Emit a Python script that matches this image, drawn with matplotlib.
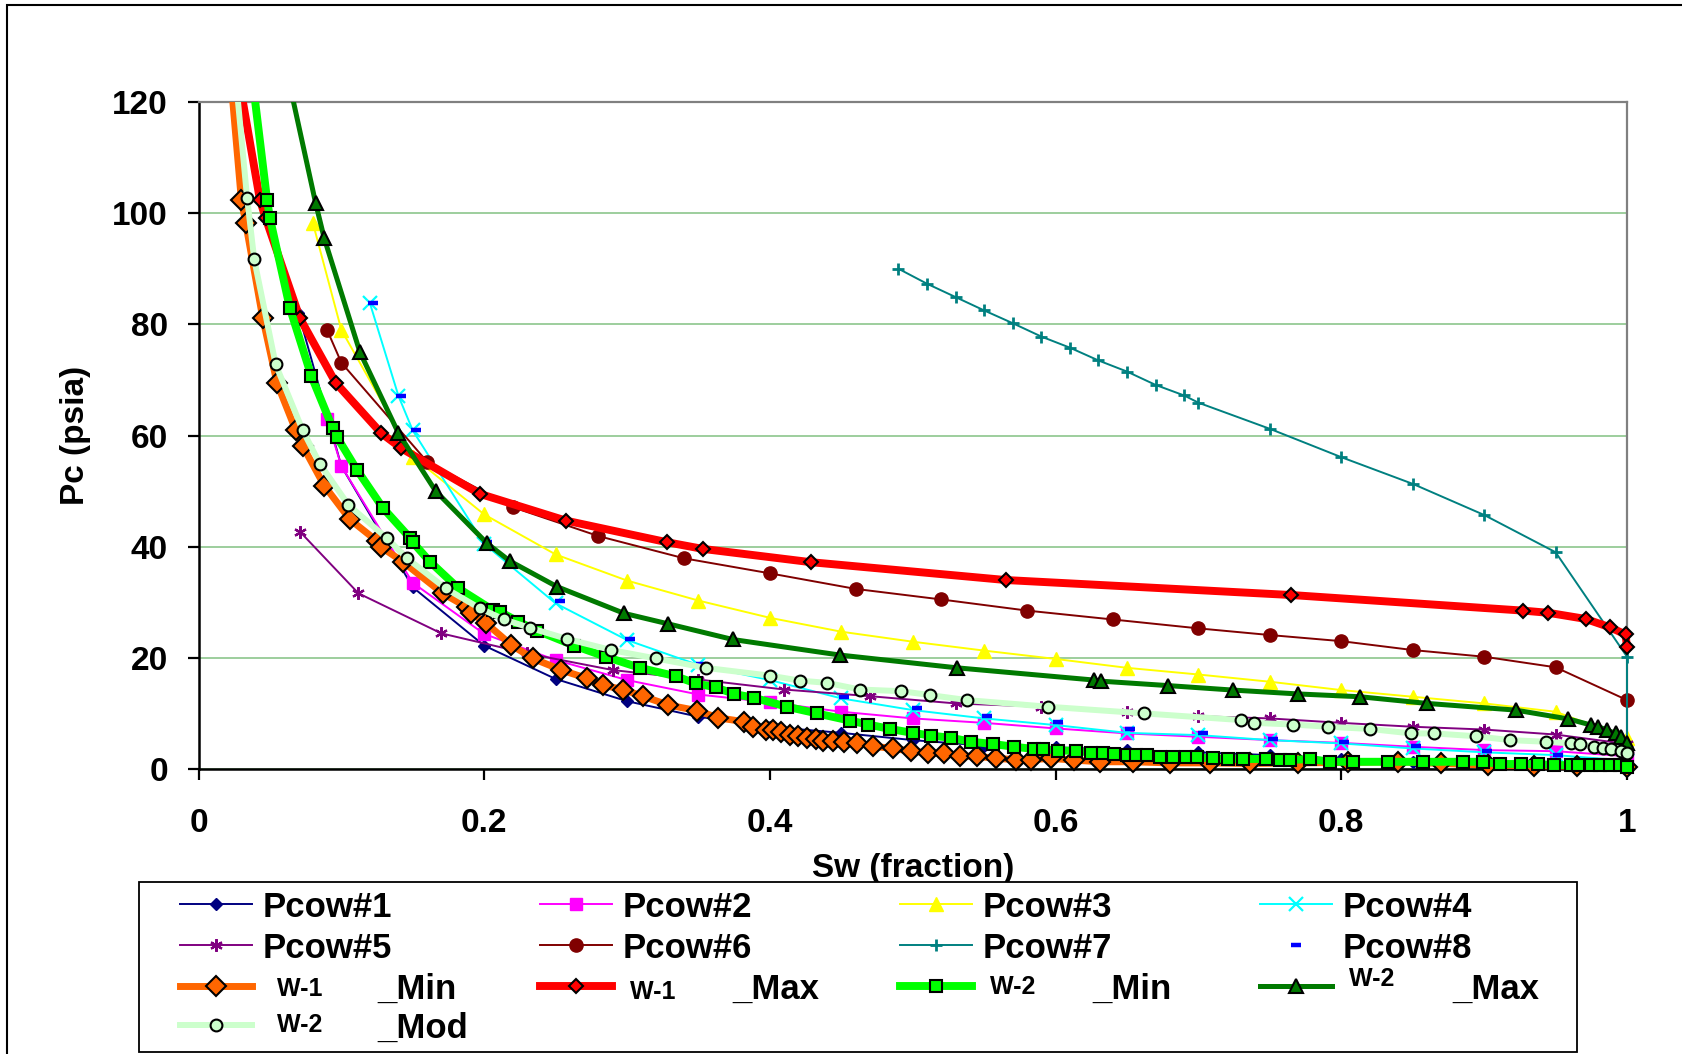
import matplotlib.pyplot as plt
from matplotlib.patches import Rectangle
from matplotlib.text import Annotation

plt.rcParams['font.family'] = ['Liberation Sans', 'DejaVu Sans']
plt.rcParams['font.weight'] = 'bold'

# === data (Sw fraction, Pc psia) ===
pcow1_x = [0.07, 0.10, 0.15, 0.20, 0.25, 0.30, 0.35, 0.40, 0.45, 0.50, 0.55, 0.60, 0.65, 0.70, 0.75, 0.80, 0.85, 0.90, 0.95, 1.00]
pcow1_y = [82.0, 54.5, 32.7, 22.2, 16.2, 12.2, 9.4, 7.6, 6.5, 5.2, 4.2, 3.9, 3.4, 3.0, 2.5, 1.8, 1.3, 1.1, 0.9, 0.4]

pcow2_x = [0.09, 0.10, 0.15, 0.20, 0.25, 0.30, 0.35, 0.40, 0.45, 0.50, 0.55, 0.60, 0.65, 0.70, 0.75, 0.80, 0.85, 0.90, 0.95, 1.00]
pcow2_y = [62.9, 54.5, 33.5, 24.3, 19.6, 16.0, 13.4, 12.0, 10.3, 9.1, 8.3, 7.3, 6.4, 5.8, 5.2, 4.7, 4.0, 3.4, 3.2, 2.3]

pcow3_x = [0.08, 0.10, 0.15, 0.20, 0.25, 0.30, 0.35, 0.40, 0.45, 0.50, 0.55, 0.60, 0.65, 0.70, 0.75, 0.80, 0.85, 0.90, 0.95, 1.00]
pcow3_y = [98.3, 79.0, 56.2, 45.8, 38.6, 33.9, 30.3, 27.2, 24.7, 22.9, 21.3, 19.8, 18.2, 17.0, 15.7, 14.2, 13.0, 11.8, 10.3, 5.6]

pcow4_x = [0.12, 0.14, 0.15, 0.20, 0.25, 0.30, 0.35, 0.40, 0.45, 0.50, 0.55, 0.60, 0.65, 0.70, 0.75, 0.80, 0.85, 0.90, 0.95, 1.00]
pcow4_y = [83.8, 67.1, 60.9, 40.5, 29.8, 23.2, 18.7, 16.0, 12.7, 10.6, 9.1, 7.9, 6.5, 6.1, 5.2, 4.6, 3.7, 3.0, 2.5, 1.5]

pcow5_x = [0.071, 0.112, 0.170, 0.230, 0.290, 0.350, 0.410, 0.470, 0.530, 0.590, 0.650, 0.700, 0.750, 0.800, 0.850, 0.900, 0.950, 1.00]
pcow5_y = [42.7, 31.6, 24.4, 20.8, 17.8, 16.1, 14.3, 13.1, 11.8, 11.2, 10.3, 9.5, 9.1, 8.3, 7.6, 7.1, 6.2, 4.5]

pcow6_x = [0.09, 0.10, 0.16, 0.22, 0.28, 0.34, 0.40, 0.46, 0.52, 0.58, 0.64, 0.70, 0.75, 0.80, 0.85, 0.90, 0.95, 1.00]
pcow6_y = [79.0, 73.1, 55.3, 47.1, 41.9, 37.9, 35.2, 32.4, 30.5, 28.5, 26.9, 25.3, 24.1, 23.0, 21.4, 20.2, 18.3, 12.4]

pcow7_x = [0.49, 0.51, 0.53, 0.55, 0.57, 0.59, 0.61, 0.63, 0.65, 0.67, 0.69, 0.70, 0.75, 0.80, 0.85, 0.90, 0.95, 1.00, 1.00]
pcow7_y = [90.0, 87.3, 84.9, 82.5, 80.2, 77.8, 75.8, 73.5, 71.5, 69.1, 67.2, 65.9, 61.2, 56.1, 51.3, 45.7, 39.0, 20.2, 0.0]

pcow8_x = [0.122, 0.142, 0.152, 0.202, 0.253, 0.302, 0.352, 0.402, 0.452, 0.503, 0.552, 0.602, 0.652, 0.703, 0.752, 0.802, 0.852, 0.902, 0.952]
pcow8_y = [83.8, 67.1, 60.9, 40.8, 30.2, 23.3, 18.9, 16.6, 12.9, 11.0, 9.6, 8.4, 7.2, 6.4, 5.4, 4.9, 4.1, 3.3, 2.5]

w1_min_x = [0.020, 0.030, 0.033, 0.045, 0.055, 0.068, 0.073, 0.088, 0.106, 0.125, 0.128, 0.143, 0.171, 0.188, 0.191,
            0.201, 0.219, 0.234, 0.254, 0.272, 0.283, 0.297, 0.311, 0.329, 0.349, 0.364, 0.382, 0.388, 0.397, 0.402,
            0.408, 0.414, 0.420, 0.426, 0.432, 0.437, 0.444, 0.452, 0.461, 0.472, 0.486, 0.499, 0.511, 0.522, 0.533,
            0.545, 0.558, 0.572, 0.583, 0.597, 0.613, 0.631, 0.654, 0.680, 0.708, 0.736, 0.770, 0.805, 0.840, 0.870,
            0.903, 0.935, 0.965, 1.000]
w1_min_y = [132, 102.4, 98.3, 81.1, 69.4, 61.0, 58.1, 51.0, 44.9, 41.0, 39.9, 37.3, 31.6, 29.1, 28.0,
            26.3, 22.3, 19.9, 17.8, 16.3, 15.1, 14.3, 13.1, 11.5, 10.5, 9.2, 8.5, 7.6, 7.1, 7.0,
            6.6, 6.1, 5.9, 5.6, 5.4, 5.1, 5.1, 4.8, 4.7, 4.1, 3.7, 3.2, 2.9, 2.8, 2.3,
            2.3, 1.9, 1.7, 1.7, 1.9, 1.6, 1.3, 1.3, 1.1, 1.1, 1.0, 1.1, 1.2, 1.3, 1.0,
            0.7, 0.6, 0.5, 0.4]

w1_max_x = [0.025, 0.043, 0.047, 0.071, 0.096, 0.128, 0.142, 0.197, 0.257, 0.328, 0.353, 0.429, 0.565, 0.765, 0.927,
            0.945, 0.971, 0.988, 0.999, 1.000]
w1_max_y = [129, 102.4, 99.1, 81.1, 69.5, 60.4, 57.7, 49.5, 44.7, 40.8, 39.6, 37.2, 34.0, 31.3, 28.5,
            28.1, 27.0, 25.5, 24.2, 21.9]

w2_min_x = [0.035, 0.048, 0.050, 0.064, 0.079, 0.094, 0.097, 0.111, 0.129, 0.148, 0.150, 0.162, 0.182, 0.206, 0.211,
            0.224, 0.237, 0.263, 0.285, 0.309, 0.334, 0.348, 0.362, 0.375, 0.389, 0.412, 0.433, 0.456, 0.469, 0.484,
            0.500, 0.513, 0.527, 0.541, 0.556, 0.571, 0.585, 0.591, 0.602, 0.614, 0.625, 0.633, 0.641, 0.650, 0.656,
            0.664, 0.673, 0.682, 0.691, 0.699, 0.710, 0.721, 0.731, 0.747, 0.757, 0.764, 0.778, 0.792, 0.808, 0.833,
            0.857, 0.885, 0.899, 0.911, 0.926, 0.938, 0.949, 0.961, 0.966, 0.975, 0.981, 0.988, 0.995, 1.000]
w2_min_y = [130, 102.4, 99.1, 82.9, 70.7, 61.3, 59.7, 53.8, 47.0, 41.6, 40.8, 37.3, 32.5, 28.6, 28.3,
            26.5, 24.9, 22.2, 20.2, 18.2, 16.7, 15.4, 14.7, 13.5, 12.8, 11.2, 10.0, 8.7, 8.0, 7.2,
            6.5, 6.0, 5.6, 4.9, 4.5, 4.0, 3.6, 3.6, 3.3, 3.3, 2.9, 2.9, 2.7, 2.5, 2.5,
            2.5, 2.1, 2.1, 2.1, 2.1, 1.9, 1.8, 1.8, 1.8, 1.6, 1.6, 1.8, 1.3, 1.3, 1.3,
            1.3, 1.3, 1.3, 0.9, 0.9, 0.9, 0.7, 0.7, 0.7, 0.7, 0.7, 0.7, 0.7, 0.4]

w2_max_x = [0.058, 0.082, 0.088, 0.113, 0.140, 0.166, 0.202, 0.218, 0.251, 0.298, 0.329, 0.374, 0.449, 0.531, 0.627,
            0.632, 0.679, 0.724, 0.770, 0.813, 0.860, 0.922, 0.959, 0.975, 0.980, 0.986, 0.992, 0.996, 1.000]
w2_max_y = [130, 101.8, 95.5, 75.0, 60.4, 50.0, 40.6, 37.4, 32.8, 28.0, 26.1, 23.3, 20.5, 18.2, 16.0,
            15.8, 15.0, 14.2, 13.5, 13.0, 11.8, 10.6, 9.0, 7.9, 7.6, 7.0, 6.4, 5.8, 4.6]

w2_mod_x = [0.024, 0.034, 0.039, 0.054, 0.073, 0.085, 0.105, 0.132, 0.146, 0.173, 0.197, 0.214, 0.232, 0.258, 0.289,
            0.320, 0.355, 0.400, 0.421, 0.440, 0.463, 0.492, 0.512, 0.538, 0.595, 0.662, 0.730, 0.739, 0.766, 0.791,
            0.820, 0.849, 0.865, 0.894, 0.918, 0.943, 0.961, 0.967, 0.977, 0.983, 0.989, 0.996, 1.000]
w2_mod_y = [130, 102.8, 91.7, 72.8, 60.9, 54.9, 47.5, 41.5, 37.9, 32.5, 28.9, 26.9, 25.4, 23.4, 21.4,
            19.9, 18.2, 16.8, 15.9, 15.5, 14.3, 14.0, 13.3, 12.4, 11.2, 10.0, 8.8, 8.3, 8.0, 7.6,
            7.2, 6.4, 6.4, 5.9, 5.2, 4.9, 4.6, 4.5, 4.0, 3.8, 3.6, 3.3, 2.8]

x_ticks = [0, 0.2, 0.4, 0.6, 0.8, 1.0]
x_tick_labels = ["0", "0.2", "0.4", "0.6", "0.8", "1"]
y_ticks = [0, 20, 40, 60, 80, 100, 120]

# legend label = small well name + big suffix (None for the Pcow curves)
# (x, y, label, (suffix, suffix x offset px, well-name raise px), style)
series = [
    (pcow1_x, pcow1_y, "Pcow#1", None, dict(color="#000080", lw=1.4, marker="D", ms=6, mfc="#000080", mec="#000080")),
    (pcow2_x, pcow2_y, "Pcow#2", None, dict(color="#FF00FF", lw=1.4, marker="s", ms=8.5, mfc="#FF00FF", mec="#FF00FF")),
    (pcow3_x, pcow3_y, "Pcow#3", None, dict(color="#FFFF00", lw=1.4, marker="^", ms=10.5, mfc="#FFFF00", mec="#FFFF00")),
    (pcow4_x, pcow4_y, "Pcow#4", None, dict(color="#00FFFF", lw=1.4, marker="x", ms=10, mew=1.6, mec="#00FFFF")),
    (pcow5_x, pcow5_y, "Pcow#5", None, dict(color="#800080", lw=1.4, marker=(6, 2, 0), ms=9, mew=1.6, mec="#800080")),
    (pcow6_x, pcow6_y, "Pcow#6", None, dict(color="#800000", lw=1.4, marker="o", ms=9.5, mfc="#800000", mec="#800000")),
    (pcow7_x, pcow7_y, "Pcow#7", None, dict(color="#008080", lw=1.4, marker="+", ms=8, mew=2, mec="#008080")),
    (pcow8_x, pcow8_y, "Pcow#8", None, dict(color="#0000FF", ls="none", marker="_", ms=7.5, mew=3.2, mec="#0000FF")),
    (w1_min_x, w1_min_y, "  W-1", ("_Min", 115, 3), dict(color="#FF6600", lw=5, marker="D", ms=10.5, mfc="#FF6600", mec="black", mew=1.5)),
    (w1_max_x, w1_max_y, " W-1", ("_Max", 110, 0), dict(color="#FF0000", lw=5.7, marker="D", ms=7.6, mfc="#FF0000", mec="black", mew=1.5)),
    (w2_min_x, w2_min_y, " W-2", ("_Min", 110, 5), dict(color="#00FF00", lw=5.7, marker="s", ms=9, mfc="#00FF00", mec="black", mew=1.5)),
    (w2_max_x, w2_max_y, " W-2", ("_Max", 110, 13), dict(color="#007A00", lw=3.6, marker="^", ms=10.5, mfc="#007A00", mec="black", mew=1.5)),
    (w2_mod_x, w2_mod_y, "  W-2", ("_Mod", 115, 7), dict(color="#CCFFCC", lw=4.3, marker="o", ms=8.5, mfc="#CCFFCC", mec="black", mew=1.5)),
]

W, H = 1682, 1054
fig = plt.figure(figsize=(W / 100, H / 100), dpi=100)
ax = fig.add_axes([198.5 / W, 1 - 769 / H, (1627 - 198.5) / W, (769 - 102) / H])

# clip only at the top (and loosely elsewhere) like Excel does
clip = Rectangle((-0.05, -0.05), 1.1, 1.05, transform=ax.transAxes)

lines = []
for i, (x, y, label, suffix, style) in enumerate(series):
    ln, = ax.plot(x, y, label=label, zorder=3 + i, **style)
    ln.set_clip_path(clip)
    lines.append(ln)

ax.set_xlim(0, 1)
ax.set_ylim(0, 120)
ax.set_xticks(x_ticks)
ax.set_xticklabels(x_tick_labels)
ax.set_yticks(y_ticks)
ax.grid(axis="y", color="#8CC68C", lw=1.2)
ax.set_axisbelow(True)

for s in ["left", "bottom"]:
    ax.spines[s].set_color("black")
    ax.spines[s].set_linewidth(1.8)
for s in ["top", "right"]:
    ax.spines[s].set_color("#808080")
    ax.spines[s].set_linewidth(1.6)

ax.tick_params(axis="both", direction="out", length=8, width=1.6, labelsize=24)
ax.tick_params(axis="x", pad=20)
ax.tick_params(axis="y", pad=14)
for t in ax.get_xticklabels() + ax.get_yticklabels():
    t.set_fontweight("bold")

ax.set_xlabel("Sw (fraction)", fontsize=24, fontweight="bold", labelpad=10)
ax.set_ylabel("Pc (psia)", fontsize=24, fontweight="bold", labelpad=15)

# outer chart frame
fig.add_artist(Rectangle((7 / W, -0.1), 1.2, 1.1 - 5 / H, transform=fig.transFigure,
                         fill=False, ec="black", lw=1.5, zorder=0))

# legend box (covers the bottom of the x label like the original)
fig.add_artist(Rectangle((139 / W, 1 - 1052 / H), (1577 - 139) / W, (1052 - 882) / H,
                         transform=fig.transFigure, fc="white", ec="black", lw=1.3, zorder=4))

order = [0, 4, 8, 12, 1, 5, 9, 2, 6, 10, 3, 7, 11]
handles = [lines[i] for i in order]
labels = [series[i][2] for i in order]
leg = fig.legend(handles, labels, loc="upper left", ncol=4, mode="expand",
                 bbox_to_anchor=(180 / W, 1 - 890 / H, (1472 - 180) / W, 0),
                 frameon=False, borderpad=0, borderaxespad=0,
                 handlelength=2.07, handleheight=1.0, handletextpad=0.31,
                 labelspacing=0.19, columnspacing=1,
                 prop=dict(family="Liberation Sans", weight="bold", size=25))
leg.set_zorder(5)

# well names are small, the _Min/_Max/_Mod suffix is big
for txt, i in zip(leg.get_texts(), order):
    suffix = series[i][3]
    if suffix is None:
        continue
    name_size = 18
    txt.set_fontsize(name_size)
    txt.set_y(suffix[2])  # raise in pixels inside the legend entry
    descent = 0.21 * name_size * 100 / 72
    ann = Annotation(suffix[0], xy=(0, 0), xycoords=txt,
                     xytext=(suffix[1], descent - suffix[2]), textcoords="offset pixels",
                     fontsize=25, fontweight="bold", family="Liberation Sans",
                     ha="left", va="baseline", zorder=6)
    fig.add_artist(ann)

fig.savefig("out.png", dpi=100)
